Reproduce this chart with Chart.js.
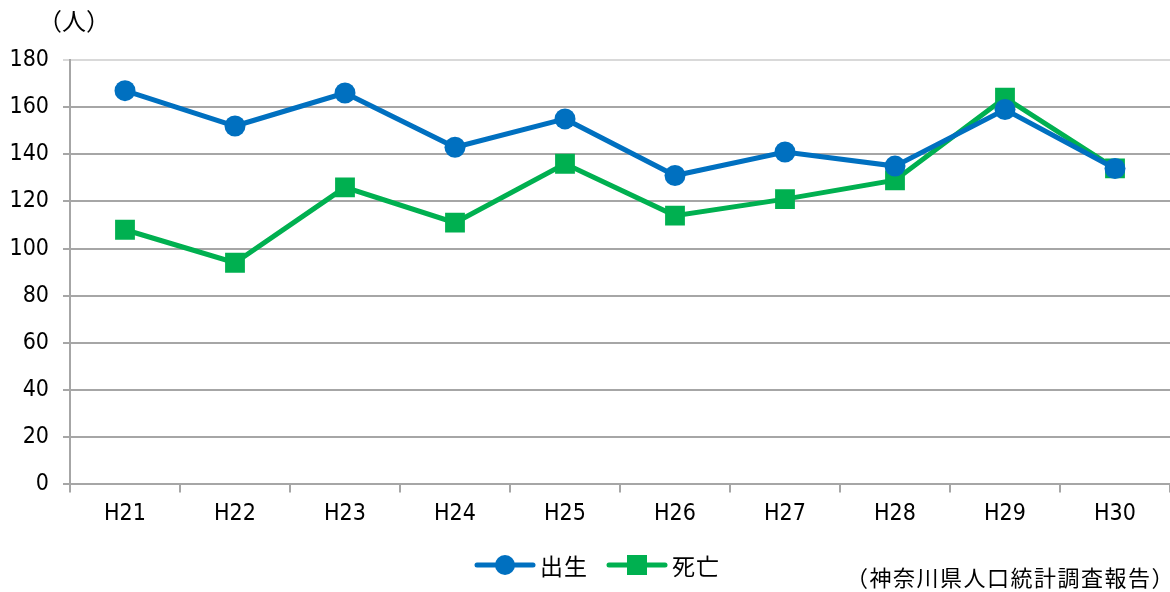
<!DOCTYPE html>
<html lang="ja">
<head>
<meta charset="utf-8">
<script src="https://cdn.jsdelivr.net/npm/chart.js@4/dist/chart.umd.min.js"></script>
<style>
  html, body { margin: 0; padding: 0; background: #fff; overflow: hidden; }
  canvas { display: block; }
</style>
</head>
<body>
<canvas id="myChart" width="1170" height="592"></canvas>
<script>
const years = ["H21", "H22", "H23", "H24", "H25", "H26", "H27", "H28", "H29", "H30"];
const births = [167, 152, 166, 143, 155, 131, 141, 135, 159, 134];
const deaths = [108, 94, 126, 111, 136, 114, 121, 129, 164, 134];
const yTicks = [0, 20, 40, 60, 80, 100, 120, 140, 160, 180];

const blue = "#0070C0";
const green = "#00B050";
const tickFont = "'DejaVu Sans Condensed', 'Liberation Sans Narrow', sans-serif";
const jpFont = "'Noto Sans CJK JP', sans-serif";

// legend entry: short line with the marker on top, Excel style
function drawLegendItem(ctx, x, y, color, shape, text) {
  ctx.strokeStyle = color;
  ctx.fillStyle = color;
  ctx.lineWidth = 5;
  ctx.lineCap = "round";
  ctx.beginPath();
  ctx.moveTo(x, y);
  ctx.lineTo(x + 56, y);
  ctx.stroke();
  if (shape === "circle") {
    ctx.beginPath();
    ctx.arc(x + 28, y, 10, 0, Math.PI * 2);
    ctx.fill();
  } else {
    ctx.fillRect(x + 18, y - 10, 20, 20);
  }
  ctx.fillStyle = "#000";
  ctx.fillText(text, x + 63, y + 1);
}

const textPlugin = {
  id: "extraText",
  afterDraw(chart) {
    const ctx = chart.ctx;
    const ds = chart.data.datasets;
    ctx.save();
    ctx.textBaseline = "middle";
    ctx.textAlign = "left";
    ctx.fillStyle = "#000";
    ctx.font = "24px " + jpFont;
    ctx.fillText("（人）", 38, 21);

    ctx.font = "23px " + jpFont;
    ctx.letterSpacing = "1px";
    drawLegendItem(ctx, 477, 565, ds[0].borderColor, "circle", ds[0].label);
    drawLegendItem(ctx, 609, 565, ds[1].borderColor, "rect", ds[1].label);

    ctx.fillStyle = "#000";
    ctx.font = "22px " + jpFont;
    ctx.letterSpacing = "1.5px";
    ctx.textAlign = "right";
    ctx.fillText("（神奈川県人口統計調査報告）", 1175, 578);
    ctx.restore();
  },
};

const ctx = document.getElementById("myChart").getContext("2d");

const data = {
  labels: years,
  datasets: [
    {
      label: "出生",
      data: births,
      borderColor: blue,
      backgroundColor: blue,
      borderWidth: 5,
      pointStyle: "circle",
      pointRadius: 10.5,
      pointHoverRadius: 10.5,
      pointBorderWidth: 0,
    },
    {
      label: "死亡",
      data: deaths,
      borderColor: green,
      backgroundColor: green,
      borderWidth: 5,
      pointStyle: "rect",
      pointRadius: 14,
      pointHoverRadius: 14,
      pointBorderWidth: 0,
    },
  ],
};

const config = {
  type: "line",
  data: data,
  options: {
    responsive: false,
    animation: false,
    layout: {
      autoPadding: false,
      padding: { top: 60, right: 0, bottom: 56, left: 0 },
    },
    plugins: {
      tooltip: { enabled: false },
      legend: { display: false },
    },
    scales: {
      x: {
        offset: true,
        grid: {
          offset: true,
          drawOnChartArea: false,
          drawTicks: true,
          tickLength: 8,
          color: "#a6a6a6",
          lineWidth: 2,
        },
        border: { color: "#a6a6a6", width: 2 },
        ticks: {
          color: "#000",
          padding: 8,
          font: { family: tickFont, size: 23 },
        },
      },
      y: {
        min: 0,
        max: 180,
        afterBuildTicks(scale) {
          scale.ticks = yTicks.map((v) => ({ value: v }));
        },
        afterFit(scale) {
          scale.width = 70;
        },
        grid: {
          tickLength: 7,
          lineWidth: 2,
          color: (c) => (c.tick && c.tick.value === 180 ? "#d9d9d9" : "#a6a6a6"),
        },
        border: { color: "#a6a6a6", width: 2 },
        ticks: {
          color: "#000",
          padding: 14,
          font: { family: tickFont, size: 23 },
        },
      },
    },
  },
  plugins: [textPlugin],
};

const myChart = new Chart(ctx, config);
</script>
</body>
</html>
